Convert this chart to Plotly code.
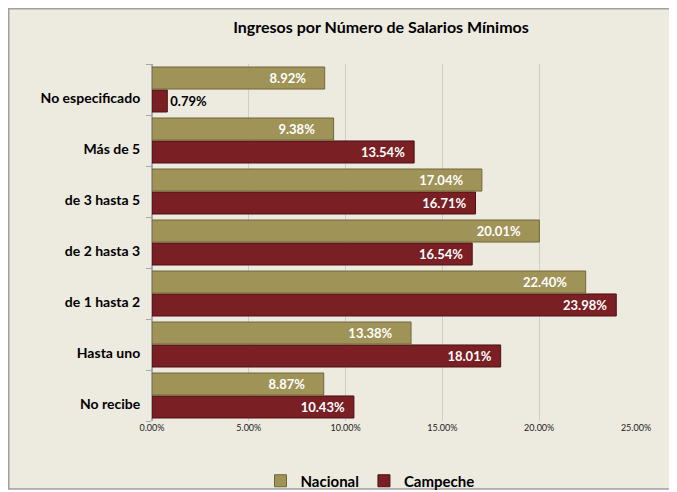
import plotly.graph_objects as go

categorias = ["No recibe", "Hasta uno", "de 1 hasta 2", "de 2 hasta 3",
              "de 3 hasta 5", "Más de 5", "No especificado"]
nacional = [8.87, 13.38, 22.40, 20.01, 17.04, 9.38, 8.92]
campeche = [10.43, 18.01, 23.98, 16.54, 16.71, 13.54, 0.79]

# the page body adds an 8px margin, so the figure is drawn 8px smaller
W, H = 669, 484
L, R, T, B = 144, 41, 56, 71
pw, ph = W - L - R, H - T - B


def px(x):
    return (x - L) / pw


def py(y):
    return (H - B - y) / ph


def etiquetas(vals, pad):
    return ["%.2f%%" % v + ("\u00a0" * pad if v > 3 else "") for v in vals]


def posiciones(vals):
    return ["inside" if v > 3 else "outside" for v in vals]


def colores(vals):
    return ["white" if v > 3 else "black" for v in vals]


fig = go.Figure()
# Campeche first so it sits below Nacional inside each group
fig.add_trace(go.Bar(
    y=categorias, x=campeche, orientation="h", name="Campeche",
    marker=dict(color="#7A1F24", line=dict(color="#4A1014", width=1)),
    text=etiquetas(campeche, 2), textposition=posiciones(campeche),
    insidetextanchor="end", textfont=dict(color=colores(campeche), size=13,
                                          family="Lato", weight="bold"),
    legendrank=2, cliponaxis=False,
))
fig.add_trace(go.Bar(
    y=categorias, x=nacional, orientation="h", name="Nacional",
    marker=dict(color="#A09358", line=dict(color="#6F6638", width=1)),
    text=etiquetas(nacional, 5), textposition=posiciones(nacional),
    insidetextanchor="end", textfont=dict(color=colores(nacional), size=13,
                                          family="Lato", weight="bold"),
    legendrank=1, cliponaxis=False,
))

fig.update_layout(
    width=W, height=H,
    margin=dict(l=L, r=R, t=T, b=B, autoexpand=False),
    paper_bgcolor="white", plot_bgcolor="rgba(0,0,0,0)",
    barmode="group", bargap=0.1, bargroupgap=0.04,
    font=dict(family="Lato", color="black"),
    title=dict(text="<b>Ingresos por Número de Salarios Mínimos</b>",
               x=373 / W, xanchor="center", y=1 - 19 / H, yanchor="middle",
               font=dict(size=16, family="Lato", color="black")),
    xaxis=dict(range=[0, 25], dtick=5, tickformat=".2f", ticksuffix="%",
               showgrid=True, gridcolor="#CDCDCD", gridwidth=1,
               zeroline=True, zerolinecolor="#A8A8A8",
               tickfont=dict(size=9, color="#222"), ticks="", fixedrange=True),
    yaxis=dict(categoryorder="array", categoryarray=categorias,
               tickfont=dict(size=14, family="Lato", weight="bold"),
               ticks="outside", ticklen=5, tickcolor="#A8A8A8",
               tickson="boundaries", ticklabelstandoff=8,
               ticklabelshift=9,
               showline=True, linecolor="#A8A8A8"),
    legend=dict(orientation="h", x=px(362), xanchor="center",
                y=py(473), yanchor="middle", itemwidth=30,
                font=dict(size=15, family="Lato", weight="bold"),
                bgcolor="rgba(0,0,0,0)", traceorder="normal"),
    showlegend=True,
    shapes=[dict(type="rect", xref="paper", yref="paper",
                 x0=px(0.75), x1=px(666), y0=py(481), y1=py(0.75),
                 fillcolor="#EDEAE0",
                 line=dict(color="#A0A0A0", width=1.5), layer="below")],
)

fig.write_html("out.html")
